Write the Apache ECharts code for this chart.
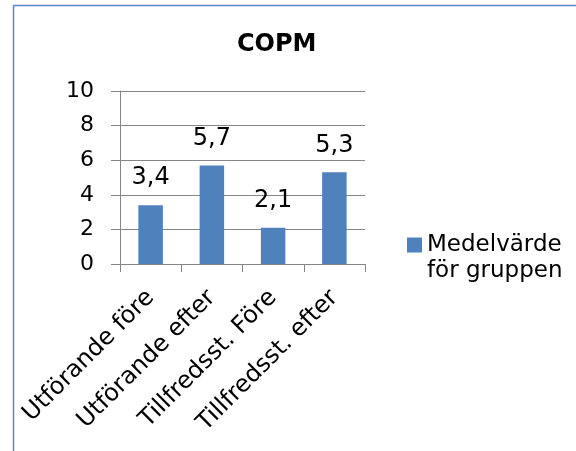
<!DOCTYPE html>
<html><head><meta charset="utf-8">
<script src="https://cdn.jsdelivr.net/npm/echarts@6/dist/echarts.min.js"></script>
<style>html,body{margin:0;padding:0;background:#fff}#c{width:576px;height:451px}</style>
</head><body><div id="c"></div>
<script>
var categories = ['Utförande före', 'Utförande efter', 'Tillfredsst. Före', 'Tillfredsst. efter'];
var values = [3.4, 5.7, 2.1, 5.3];
var seriesName = 'Medelvärde för gruppen';
var yTicks = [0, 2, 4, 6, 8, 10];

var FONT = 'DejaVu Sans';
var chart = echarts.init(document.getElementById('c'), null, {renderer: 'canvas'});
chart.setOption({
  animation: false,
  backgroundColor: '#fff',
  textStyle: {fontFamily: FONT},
  title: {
    text: 'COPM', left: 232, top: 28,
    textStyle: {fontFamily: FONT, fontWeight: 'bold', fontSize: 24, color: '#000'}
  },
  graphic: [{
    type: 'rect', silent: true,
    shape: {x: 13.5, y: 5.5, width: 700, height: 600},
    style: {fill: 'none', stroke: '#5b87c4', lineWidth: 1.5}
  }],
  legend: {
    left: 407, top: 206, orient: 'vertical', padding: 0,
    itemWidth: 15, itemHeight: 15, itemGap: 6,
    icon: 'rect',
    formatter: function () { return ' \nMedelvärde\nför gruppen'; },
    textStyle: {fontFamily: FONT, fontSize: 23, color: '#000', lineHeight: 26}
  },
  grid: {left: 120, right: 211, top: 91, bottom: 187, containLabel: false},
  xAxis: {
    type: 'category', data: categories,
    axisLine: {lineStyle: {color: '#868686', width: 1}},
    axisTick: {show: true, length: 8, lineStyle: {color: '#868686'}},
    axisLabel: {rotate: 45, margin: 30, interval: 0, fontSize: 24, color: '#000', fontFamily: FONT}
  },
  yAxis: {
    type: 'value', min: yTicks[0], max: yTicks[yTicks.length - 1], interval: 2,
    axisLine: {show: true, lineStyle: {color: '#868686', width: 1}},
    axisTick: {show: true, length: 9, lineStyle: {color: '#868686'}},
    splitLine: {lineStyle: {color: '#868686', width: 1}},
    axisLabel: {margin: 26, fontSize: 22, color: '#000', fontFamily: FONT}
  },
  series: [{
    name: seriesName, type: 'bar', data: values, barWidth: '40%',
    itemStyle: {color: '#4f81bd'},
    label: {
      show: true, position: 'top', distance: 15, fontSize: 24, color: '#000', fontFamily: FONT,
      formatter: function (p) { return String(p.value).replace('.', ','); }
    }
  }]
});
</script></body></html>
